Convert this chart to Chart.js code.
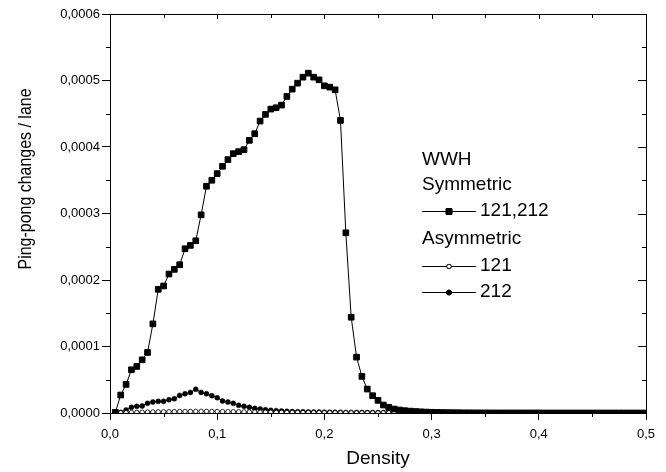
<!DOCTYPE html>
<html>
<head>
<meta charset="utf-8">
<script src="https://cdn.jsdelivr.net/npm/chart.js@4.4.0/dist/chart.umd.min.js"></script>
<style>
  html, body { margin: 0; padding: 0; background: #fff; }
  canvas { display: block; }
</style>
</head>
<body>
<canvas id="pingpong" width="666" height="472"></canvas>
<script>
// density grid (x)
const density = [
  0.005, 0.010, 0.015, 0.020, 0.025, 0.030, 0.035, 0.040, 0.045, 0.050,
  0.055, 0.060, 0.065, 0.070, 0.075, 0.080, 0.085, 0.090, 0.095, 0.100,
  0.105, 0.110, 0.115, 0.120, 0.125, 0.130, 0.135, 0.140, 0.145, 0.150,
  0.155, 0.160, 0.165, 0.170, 0.175, 0.180, 0.185, 0.190, 0.195, 0.200,
  0.205, 0.210, 0.215, 0.220, 0.225, 0.230, 0.235, 0.240, 0.245, 0.250,
  0.255, 0.260, 0.265, 0.270, 0.275, 0.280, 0.285, 0.290, 0.295, 0.300,
  0.305, 0.310, 0.315, 0.320, 0.325, 0.330, 0.335, 0.340, 0.345, 0.350,
  0.355, 0.360, 0.365, 0.370, 0.375, 0.380, 0.385, 0.390, 0.395, 0.400,
  0.405, 0.410, 0.415, 0.420, 0.425, 0.430, 0.435, 0.440, 0.445, 0.450,
  0.455, 0.460, 0.465, 0.470, 0.475, 0.480, 0.485, 0.490, 0.495, 0.500
];

// Symmetric 121,212 (filled squares)
const sym121212 = [
  0.01e-4, 0.27e-4, 0.43e-4, 0.65e-4, 0.70e-4, 0.80e-4, 0.91e-4, 1.34e-4, 1.86e-4, 1.91e-4,
  2.09e-4, 2.16e-4, 2.23e-4, 2.47e-4, 2.52e-4, 2.59e-4, 2.98e-4, 3.41e-4, 3.50e-4, 3.60e-4,
  3.71e-4, 3.81e-4, 3.90e-4, 3.93e-4, 3.96e-4, 4.10e-4, 4.20e-4, 4.39e-4, 4.49e-4, 4.57e-4,
  4.59e-4, 4.63e-4, 4.76e-4, 4.87e-4, 4.96e-4, 5.05e-4, 5.11e-4, 5.05e-4, 5.01e-4, 4.92e-4,
  4.90e-4, 4.86e-4, 4.40e-4, 2.71e-4, 1.44e-4, 0.84e-4, 0.55e-4, 0.36e-4, 0.26e-4, 0.19e-4,
  0.12e-4, 0.085e-4, 0.06e-4, 0.045e-4, 0.035e-4, 0.028e-4, 0.022e-4, 0.018e-4, 0.014e-4, 0.011e-4,
  0.009e-4, 0.007e-4, 0.006e-4, 0.005e-4, 0.004e-4, 0.003e-4, 0.003e-4, 0.002e-4, 0.002e-4, 0.002e-4,
  0.001e-4, 0.001e-4, 0.001e-4, 0.001e-4, 0.001e-4, 0.001e-4, 0.001e-4, 0.001e-4, 0.001e-4, 0.001e-4,
  0, 0, 0, 0, 0, 0, 0, 0, 0, 0,
  0, 0, 0, 0, 0, 0, 0, 0, 0, 0
];

// Asymmetric 121 (open circles)
const asym121 = [
  0.000e-4, 0.003e-4, 0.005e-4, 0.008e-4, 0.010e-4, 0.012e-4, 0.014e-4, 0.016e-4, 0.018e-4, 0.019e-4,
  0.020e-4, 0.021e-4, 0.022e-4, 0.023e-4, 0.024e-4, 0.025e-4, 0.025e-4, 0.025e-4, 0.024e-4, 0.023e-4,
  0.022e-4, 0.021e-4, 0.020e-4, 0.018e-4, 0.017e-4, 0.015e-4, 0.014e-4, 0.013e-4, 0.012e-4, 0.011e-4,
  0.010e-4, 0.009e-4, 0.008e-4, 0.008e-4, 0.007e-4, 0.006e-4, 0.006e-4, 0.005e-4, 0.005e-4, 0.004e-4,
  0.004e-4, 0.004e-4, 0.003e-4, 0.003e-4, 0.003e-4, 0.002e-4, 0.002e-4, 0.002e-4, 0.002e-4, 0.002e-4,
  0.002e-4, 0.002e-4, 0.002e-4, 0.001e-4, 0.001e-4, 0.001e-4, 0.001e-4, 0.001e-4, 0.001e-4, 0.001e-4,
  0.001e-4, 0.001e-4, 0.001e-4, 0.001e-4, 0.001e-4, 0, 0, 0, 0, 0,
  0, 0, 0, 0, 0, 0, 0, 0, 0, 0,
  0, 0, 0, 0, 0, 0, 0, 0, 0, 0,
  0, 0, 0, 0, 0, 0, 0, 0, 0, 0
];

// Asymmetric 212 (filled circles)
const asym212 = [
  0.010e-4, 0.010e-4, 0.045e-4, 0.085e-4, 0.100e-4, 0.105e-4, 0.145e-4, 0.165e-4, 0.175e-4, 0.175e-4,
  0.200e-4, 0.215e-4, 0.265e-4, 0.290e-4, 0.310e-4, 0.356e-4, 0.310e-4, 0.290e-4, 0.260e-4, 0.230e-4,
  0.180e-4, 0.165e-4, 0.145e-4, 0.115e-4, 0.100e-4, 0.085e-4, 0.070e-4, 0.060e-4, 0.050e-4, 0.040e-4,
  0.035e-4, 0.030e-4, 0.025e-4, 0.022e-4, 0.020e-4, 0.018e-4, 0.016e-4, 0.015e-4, 0.014e-4, 0.013e-4,
  0.012e-4, 0.011e-4, 0.010e-4, 0.009e-4, 0.009e-4, 0.008e-4, 0.008e-4, 0.007e-4, 0.007e-4, 0.006e-4,
  0.006e-4, 0.005e-4, 0.005e-4, 0.005e-4, 0.004e-4, 0.004e-4, 0.004e-4, 0.003e-4, 0.003e-4, 0.003e-4,
  0.003e-4, 0.002e-4, 0.002e-4, 0.002e-4, 0.002e-4, 0.002e-4, 0.002e-4, 0.002e-4, 0.002e-4, 0.002e-4,
  0.002e-4, 0.002e-4, 0.001e-4, 0.001e-4, 0.001e-4, 0.001e-4, 0.001e-4, 0.001e-4, 0.001e-4, 0.001e-4,
  0.001e-4, 0.001e-4, 0.001e-4, 0.001e-4, 0.001e-4, 0, 0, 0, 0, 0,
  0, 0, 0, 0, 0, 0, 0, 0, 0, 0
];

// ticks
const xMajor = [0, 0.1, 0.2, 0.3, 0.4, 0.5];
const xMinor = [0.05, 0.15, 0.25, 0.35, 0.45];
const yMajor = [0, 0.0001, 0.0002, 0.0003, 0.0004, 0.0005, 0.0006];
const yMinor = [0.00005, 0.00015, 0.00025, 0.00035, 0.00045, 0.00055];

const FONT = "'Liberation Sans', Arial, sans-serif";

const toPoints = ys => density.map((d, i) => ({ x: d, y: ys[i] }));

// box, inward ticks on top/right, minor ticks, y title and legend
const frame = {
    id: 'frame',
    afterDraw(chart) {
        const ctx = chart.ctx;
        const a = chart.chartArea;
        const xs = chart.scales.x;
        const ys = chart.scales.y;
        ctx.save();
        ctx.strokeStyle = '#000';
        ctx.lineWidth = 1;
        ctx.beginPath();
        ctx.moveTo(a.left, a.top + 0.5);
        ctx.lineTo(a.right + 0.5, a.top + 0.5);
        ctx.lineTo(a.right + 0.5, a.bottom);
        ctx.stroke();

        ctx.beginPath();
        xMinor.forEach(v => {
            const px = Math.round(xs.getPixelForValue(v)) + 0.5;
            ctx.moveTo(px, a.bottom); ctx.lineTo(px, a.bottom + 4);
            ctx.moveTo(px, a.top); ctx.lineTo(px, a.top + 4);
        });
        xMajor.forEach(v => {
            const px = Math.round(xs.getPixelForValue(v)) + 0.5;
            ctx.moveTo(px, a.top); ctx.lineTo(px, a.top + 5);
        });
        yMinor.forEach(v => {
            const py = Math.round(ys.getPixelForValue(v)) + 0.5;
            ctx.moveTo(a.left - 4, py); ctx.lineTo(a.left, py);
            ctx.moveTo(a.right, py); ctx.lineTo(a.right - 4, py);
        });
        yMajor.forEach(v => {
            const py = Math.round(ys.getPixelForValue(v)) + 0.5;
            ctx.moveTo(a.right, py); ctx.lineTo(a.right - 8, py);
        });
        ctx.stroke();

        // y axis title (text is a bit condensed in the original)
        ctx.save();
        ctx.translate(26, 179);
        ctx.rotate(-Math.PI / 2);
        ctx.scale(0.84, 1);
        ctx.font = '19px ' + FONT;
        ctx.fillStyle = '#000';
        ctx.textAlign = 'center';
        ctx.textBaseline = 'middle';
        ctx.fillText('Ping-pong changes / lane', 0, 0);
        ctx.restore();

        // legend
        ctx.font = '19px ' + FONT;
        ctx.fillStyle = '#000';
        ctx.textAlign = 'left';
        ctx.textBaseline = 'middle';
        const lx = 422;
        ctx.fillText('WWH', lx, 160);
        ctx.fillText('Symmetric', lx, 185);
        ctx.fillText('Asymmetric', lx, 239);
        const rows = [
            { y: 211, text: '121,212', ds: 0 },
            { y: 266, text: '121', ds: 1 },
            { y: 292, text: '212', ds: 2 }
        ];
        rows.forEach(r => {
            const ds = chart.data.datasets[r.ds];
            ctx.beginPath();
            ctx.moveTo(lx, r.y + 0.5);
            ctx.lineTo(lx + 54, r.y + 0.5);
            ctx.stroke();
            Chart.helpers.drawPoint(ctx, {
                pointStyle: ds.pointStyle,
                radius: ds.pointRadius,
                borderWidth: ds.pointBorderWidth
            }, lx + 27, r.y + 0.5);
            ctx.fillStyle = ds.pointBackgroundColor;
            ctx.strokeStyle = '#000';
            ctx.lineWidth = ds.pointBorderWidth;
            ctx.fill();
            ctx.stroke();
            ctx.lineWidth = 1;
            ctx.fillStyle = '#000';
            ctx.fillText(r.text, lx + 58, r.y);
        });
        ctx.restore();
    }
};

new Chart(document.getElementById('pingpong'), {
    type: 'scatter',
    data: {
        datasets: [
            {
                label: '121,212',
                data: toPoints(sym121212),
                showLine: true,
                borderColor: '#000',
                borderWidth: 1,
                pointStyle: 'rect',
                pointRadius: 4,
                pointBorderWidth: 1,
                pointBackgroundColor: '#000',
                pointBorderColor: '#000'
            },
            {
                label: '121',
                data: toPoints(asym121),
                showLine: true,
                borderColor: '#000',
                borderWidth: 1,
                pointStyle: 'circle',
                pointRadius: 2.2,
                pointBorderWidth: 0.8,
                pointBackgroundColor: '#fff',
                pointBorderColor: '#000'
            },
            {
                label: '212',
                data: toPoints(asym212),
                showLine: true,
                borderColor: '#000',
                borderWidth: 1,
                pointStyle: 'circle',
                pointRadius: 2.5,
                pointBorderWidth: 0.5,
                pointBackgroundColor: '#000',
                pointBorderColor: '#000'
            }
        ]
    },
    options: {
        responsive: false,
        animation: false,
        events: [],
        layout: {
            padding: { top: 14, right: 20, left: 0, bottom: 0 }
        },
        plugins: {
            legend: { display: false },
            tooltip: { enabled: false }
        },
        scales: {
            x: {
                type: 'linear',
                min: 0,
                max: 0.5,
                afterBuildTicks: s => { s.ticks = xMajor.map(v => ({ value: v })); },
                afterFit: s => { s.height = 59; },
                ticks: {
                    color: '#000',
                    font: { family: FONT, size: 13 },
                    padding: 7,
                    maxRotation: 0,
                    callback: v => v.toFixed(1).replace('.', ',')
                },
                grid: {
                    drawOnChartArea: false,
                    tickLength: 7,
                    tickColor: '#000'
                },
                border: { color: '#000', width: 1 },
                title: {
                    display: true,
                    text: 'Density',
                    color: '#000',
                    font: { family: FONT, size: 19 },
                    padding: { top: 0, bottom: 2 }
                }
            },
            y: {
                min: 0,
                max: 0.0006,
                afterBuildTicks: s => { s.ticks = yMajor.map(v => ({ value: v })); },
                afterFit: s => { s.width = 110; },
                ticks: {
                    color: '#000',
                    font: { family: FONT, size: 13 },
                    padding: 2,
                    callback: v => v.toFixed(4).replace('.', ',')
                },
                grid: {
                    drawOnChartArea: false,
                    tickLength: 8,
                    tickColor: '#000'
                },
                border: { color: '#000', width: 1 }
            }
        }
    },
    plugins: [frame]
});
</script>
</body>
</html>
